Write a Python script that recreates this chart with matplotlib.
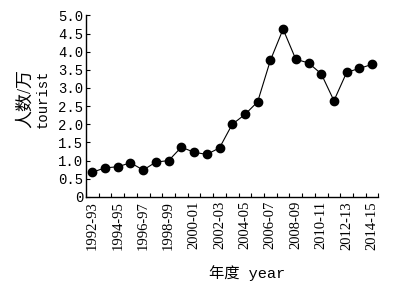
import matplotlib
matplotlib.use("Agg")
import matplotlib.pyplot as plt

years = ["1992-93", "1993-94", "1994-95", "1995-96", "1996-97", "1997-98",
         "1998-99", "1999-00", "2000-01", "2001-02", "2002-03", "2003-04",
         "2004-05", "2005-06", "2006-07", "2007-08", "2008-09", "2009-10",
         "2010-11", "2011-12", "2012-13", "2013-14", "2014-15"]
tourists = [0.68, 0.80, 0.83, 0.94, 0.74, 0.96, 1.00, 1.37, 1.23, 1.17,
            1.35, 2.00, 2.27, 2.62, 3.76, 4.62, 3.79, 3.69, 3.39, 2.65,
            3.43, 3.54, 3.65]
yticks = [0, 0.5, 1.0, 1.5, 2.0, 2.5, 3.0, 3.5, 4.0, 4.5, 5.0]
ytick_labels = ["0", "0.5", "1.0", "1.5", "2.0", "2.5", "3.0", "3.5", "4.0", "4.5", "5.0"]

serif = ["Liberation Serif", "Noto Sans CJK SC"]
mono = ["Liberation Mono", "Noto Sans CJK SC"]
plt.rcParams["font.family"] = serif

fig = plt.figure(figsize=(3.99, 2.90), dpi=100)
ax = fig.add_axes([0.2155, 0.321, 0.733, 0.626])

x = list(range(len(years)))
ax.plot(x, tourists, color="black", linewidth=0.8, marker="o",
        markersize=6, markerfacecolor="black", markeredgecolor="black")

ax.set_xlim(-0.5, len(years) - 0.5)
ax.set_ylim(0, 5.0)
ax.spines["top"].set_visible(False)
ax.spines["right"].set_visible(False)
for s in ("left", "bottom"):
    ax.spines[s].set_linewidth(1.0)

# boundary ticks without labels, labels on every second year
ax.set_xticks([i - 0.5 for i in range(len(years) + 1)])
ax.set_xticklabels([])
ax.set_xticks(x[::2], minor=True)
ax.set_xticklabels(years[::2], minor=True, rotation=90, fontsize=10.5)
ax.tick_params(axis="x", which="major", direction="in", length=3, width=0.8)
ax.tick_params(axis="x", which="minor", length=0, pad=3)

ax.set_yticks(yticks)
ax.set_yticklabels(ytick_labels, fontsize=10, family=mono)
ax.tick_params(axis="y", direction="in", length=3, width=0.8, pad=2)

fig.text(0.619, 0.058, "年度 year", fontsize=11, ha="center", va="center",
         family=mono)
fig.text(0.063, 0.66, "人数/万", rotation=90, fontsize=13,
         ha="center", va="center", family=serif)
fig.text(0.108, 0.66, "tourist", rotation=90, fontsize=10,
         ha="center", va="center", family=["Liberation Mono"])

fig.savefig("out.png", dpi=100)
